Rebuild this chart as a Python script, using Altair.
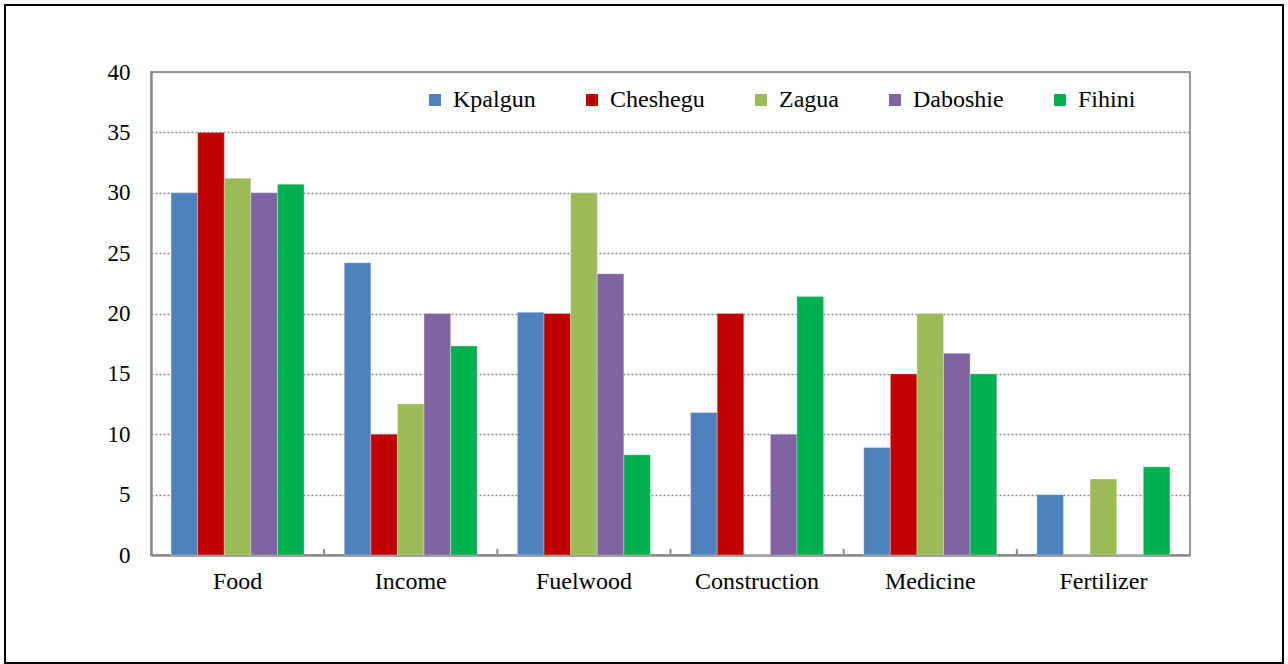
import altair as alt
import pandas as pd

uses = ["Food", "Income", "Fuelwood", "Construction", "Medicine", "Fertilizer"]
communities = ["Kpalgun", "Cheshegu", "Zagua", "Daboshie", "Fihini"]
colors = ["#4F81BD", "#C00000", "#9BBB59", "#8064A2", "#00B050"]

kpalgun = [30.0, 24.2, 20.1, 11.8, 8.9, 5.0]
cheshegu = [35.0, 10.0, 20.0, 20.0, 15.0, 0.0]
zagua = [31.2, 12.5, 30.0, 0.0, 20.0, 6.3]
daboshie = [30.0, 20.0, 23.3, 10.0, 16.7, 0.0]
fihini = [30.7, 17.3, 8.3, 21.4, 15.0, 7.3]

series = [kpalgun, cheshegu, zagua, daboshie, fihini]
rows = []
for name, vals in zip(communities, series):
    for use, v in zip(uses, vals):
        rows.append({"use": use, "community": name, "value": v})
df = pd.DataFrame(rows)

W, H = 1039, 483
FONT = "Liberation Serif"
PAD_INNER = 0.232

x_scale = alt.Scale(domain=uses, paddingInner=PAD_INNER, paddingOuter=PAD_INNER / 2)
y_scale = alt.Scale(domain=[0, 40])

bars = alt.Chart(df).mark_bar(stroke="white", strokeWidth=0.6, strokeOpacity=0.5).encode(
    x=alt.X("use:N", sort=uses, scale=x_scale, title=None,
            axis=alt.Axis(labelAngle=0, labelFontSize=24, labelFont=FONT,
                          labelColor="black", labelPadding=14, ticks=False,
                          domainColor="#8c8c8c", domainWidth=2.5, grid=False)),
    xOffset=alt.XOffset("community:N", sort=communities,
                        scale=alt.Scale(domain=communities, paddingInner=0, paddingOuter=0)),
    y=alt.Y("value:Q", scale=y_scale, title=None,
            axis=alt.Axis(values=list(range(0, 41, 5)), labelFontSize=23, labelFont=FONT,
                          labelColor="black", labelPadding=21, ticks=False,
                          domainColor="#8c8c8c", domainWidth=2.5,
                          grid=True, gridColor="#8a8a8a", gridDash=[2, 2], gridWidth=1.5)),
    color=alt.Color("community:N", sort=communities,
                    scale=alt.Scale(domain=communities, range=colors),
                    legend=alt.Legend(title=None, orient="none", direction="horizontal",
                                      legendX=272, legendY=16, symbolType="square",
                                      symbolSize=144, symbolStrokeWidth=0, labelFontSize=24,
                                      labelFont=FONT, labelColor="black", labelOffset=6,
                                      columnPadding=44, symbolOpacity=1)),
)

# short separators between category groups, rising from the baseline
step = W / len(uses)
separators = alt.Chart(pd.DataFrame({"use": uses[1:]})).mark_rule(
    color="#8c8c8c", strokeWidth=2, xOffset=-PAD_INNER * step / 2
).encode(
    x=alt.X("use:N", sort=uses, scale=x_scale, bandPosition=0),
    y=alt.datum(0),
    y2=alt.datum(0.5),
)

# outer frame around the whole figure
frame = alt.Chart(pd.DataFrame({"k": [0]})).mark_rect(
    fill=None, stroke="black", strokeWidth=2, clip=False
).encode(
    x=alt.value(-146), x2=alt.value(1132), y=alt.value(-67), y2=alt.value(591)
)

chart = alt.layer(bars, separators, frame).properties(
    width=W, height=H,
    autosize=alt.AutoSizeParams(type="none"),
    padding={"left": 151, "top": 72, "right": 98, "bottom": 109},
).configure(font=FONT, background="white").configure_view(
    stroke="#9a9a9a", strokeWidth=2
).configure_legend(labelFont=FONT).configure_axis(labelFont=FONT)

chart.save("out.html", embed_options={"renderer": "svg", "actions": False})
